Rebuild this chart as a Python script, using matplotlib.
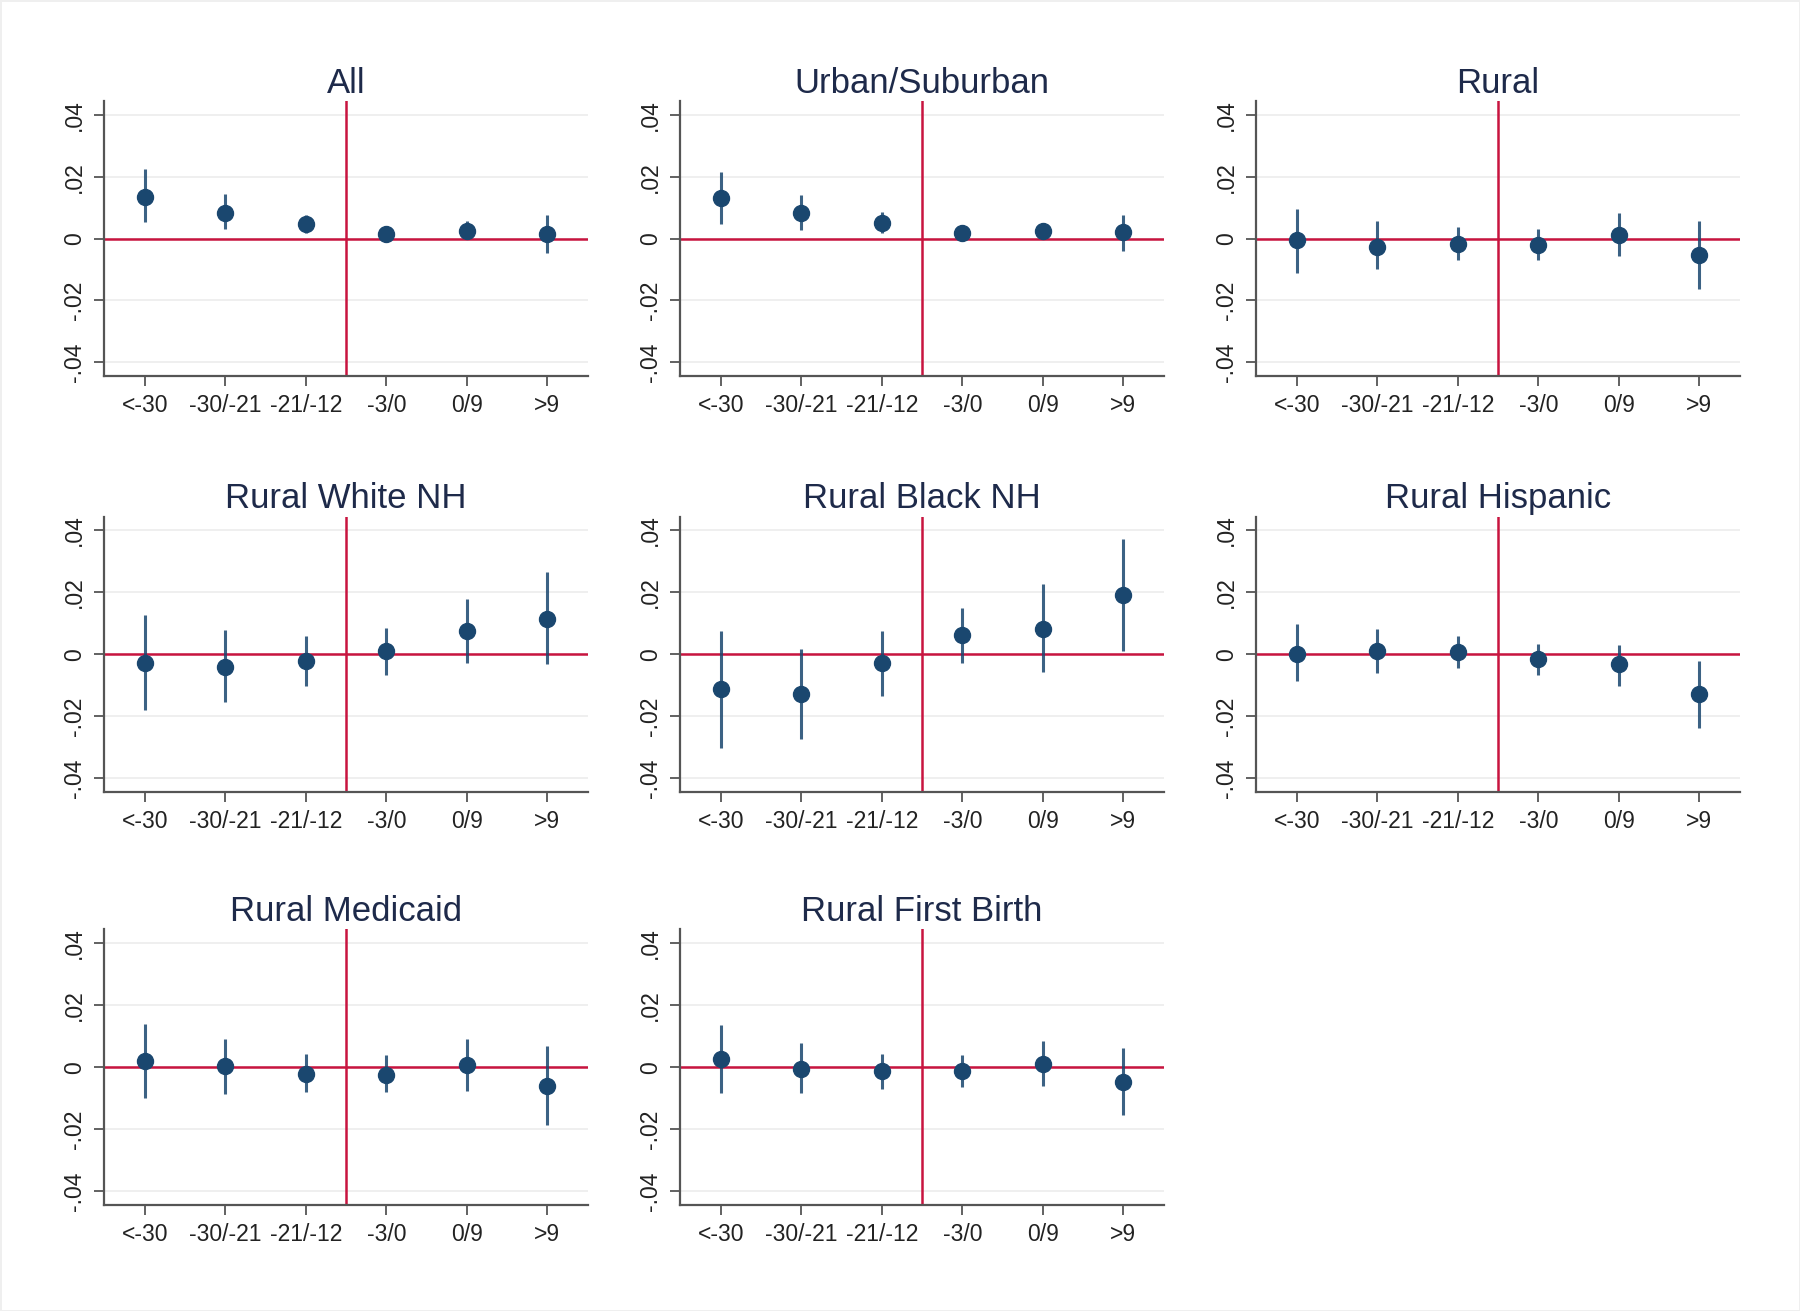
import matplotlib
matplotlib.use("Agg")
import matplotlib.pyplot as plt

# === DATA ===
categorias = ["<-30", "-30/-21", "-21/-12", "-3/0", "0/9", ">9"]
titulos = ["All", "Urban/Suburban", "Rural",
           "Rural White NH", "Rural Black NH", "Rural Hispanic",
           "Rural Medicaid", "Rural First Birth"]

# point estimates
est_all = [0.0136, 0.0084, 0.0047, 0.0014, 0.0025, 0.0016]
est_urban = [0.0130, 0.0084, 0.0052, 0.0019, 0.0024, 0.0020]
est_rural = [-0.0004, -0.0026, -0.0018, -0.0020, 0.0013, -0.0053]
est_white = [-0.0027, -0.0041, -0.0021, 0.0010, 0.0075, 0.0114]
est_black = [-0.0114, -0.0130, -0.0030, 0.0062, 0.0083, 0.0191]
est_hisp = [0.0002, 0.0011, 0.0007, -0.0017, -0.0033, -0.0130]
est_medicaid = [0.0019, 0.0003, -0.0022, -0.0026, 0.0006, -0.0062]
est_first = [0.0026, -0.0005, -0.0014, -0.0012, 0.0010, -0.0048]

# confidence interval upper bounds
hi_all = [0.0225, 0.0144, 0.0076, 0.0030, 0.0057, 0.0076]
hi_urban = [0.0216, 0.0142, 0.0086, 0.0032, 0.0048, 0.0075]
hi_rural = [0.0097, 0.0057, 0.0038, 0.0032, 0.0084, 0.0057]
hi_white = [0.0128, 0.0077, 0.0060, 0.0086, 0.0179, 0.0266]
hi_black = [0.0076, 0.0016, 0.0076, 0.0149, 0.0227, 0.0373]
hi_hisp = [0.0098, 0.0082, 0.0059, 0.0032, 0.0030, -0.0022]
hi_medicaid = [0.0140, 0.0092, 0.0043, 0.0038, 0.0090, 0.0070]
hi_first = [0.0136, 0.0078, 0.0042, 0.0039, 0.0083, 0.0063]

# confidence interval lower bounds
lo_all = [0.0054, 0.0030, 0.0019, -0.0008, 0.0003, -0.0045]
lo_urban = [0.0046, 0.0027, 0.0019, 0.0003, 0.0005, -0.0040]
lo_rural = [-0.0110, -0.0099, -0.0070, -0.0069, -0.0056, -0.0162]
lo_white = [-0.0180, -0.0156, -0.0102, -0.0067, -0.0030, -0.0033]
lo_black = [-0.0303, -0.0274, -0.0135, -0.0027, -0.0059, 0.0009]
lo_hisp = [-0.0087, -0.0062, -0.0046, -0.0067, -0.0104, -0.0240]
lo_medicaid = [-0.0099, -0.0086, -0.0081, -0.0081, -0.0076, -0.0188]
lo_first = [-0.0082, -0.0085, -0.0072, -0.0065, -0.0061, -0.0156]

estimativas = [est_all, est_urban, est_rural, est_white, est_black, est_hisp, est_medicaid, est_first]
superiores = [hi_all, hi_urban, hi_rural, hi_white, hi_black, hi_hisp, hi_medicaid, hi_first]
inferiores = [lo_all, lo_urban, lo_rural, lo_white, lo_black, lo_hisp, lo_medicaid, lo_first]

yticks = [-0.04, -0.02, 0, 0.02, 0.04]
ytick_labels = ["-.04", "-.02", "0", ".02", ".04"]

# === STYLE ===
plt.rcParams['font.family'] = ['Liberation Sans', 'DejaVu Sans']
NAVY = '#1a476f'
VERMELHO = '#c8143f'
CINZA = '#555555'

fig = plt.figure(figsize=(18, 13.11), dpi=100)
fig.patch.set_facecolor('white')
fig.patch.set_edgecolor('#efefef')
fig.patch.set_linewidth(2)

col_left = [0.058, 0.378, 0.698]
row_bottom = [0.713, 0.396, 0.081]
W, H = 0.2685, 0.21

x = list(range(1, len(categorias) + 1))

for i, titulo in enumerate(titulos):
    r, c = divmod(i, 3)
    ax = fig.add_axes([col_left[c], row_bottom[r], W, H])

    ax.set_xlim(0.5, 6.5)
    ax.set_ylim(-0.0445, 0.0445)

    # grid
    for yt in yticks:
        ax.axhline(yt, color='#ececec', lw=1.2, zorder=0)

    # reference lines
    ax.axhline(0, color=VERMELHO, lw=1.8, zorder=1)
    ax.axvline(3.5, color=VERMELHO, lw=1.8, zorder=1)

    # CIs + points
    ax.vlines(x, inferiores[i], superiores[i], color=NAVY, lw=2.2, alpha=0.85, zorder=2)
    ax.plot(x, estimativas[i], 'o', color=NAVY, ms=11.5, zorder=3)

    ax.set_title(titulo, fontsize=25, color='#1e2a4a', pad=6)

    ax.set_xticks(x)
    ax.set_xticklabels(categorias, fontsize=16.5, color='#222222')
    ax.set_yticks(yticks)
    ax.set_yticklabels(ytick_labels, fontsize=16.5, color='#222222', rotation=90, va='center')

    ax.tick_params(axis='both', direction='out', length=7, width=1.3, color=CINZA)
    ax.tick_params(axis='x', pad=6)
    ax.tick_params(axis='y', pad=6)

    for lado in ['top', 'right']:
        ax.spines[lado].set_visible(False)
    for lado in ['left', 'bottom']:
        ax.spines[lado].set_color(CINZA)
        ax.spines[lado].set_linewidth(1.6)

fig.savefig('out.png', dpi=100, facecolor=fig.get_facecolor(), edgecolor=fig.get_edgecolor())
